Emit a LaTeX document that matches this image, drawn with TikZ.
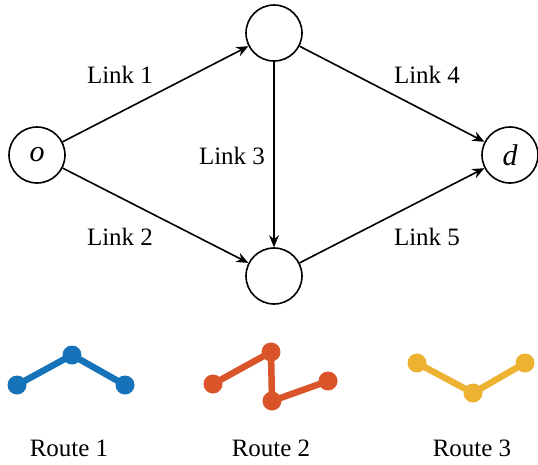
\documentclass[tikz,border=0pt]{standalone}
\usepackage{fontspec}
\setmainfont{Liberation Serif}
\usetikzlibrary{arrows.meta}
\definecolor{rblue}{HTML}{1673BA}
\definecolor{rorange}{HTML}{D95428}
\definecolor{ryellow}{HTML}{EDB232}
\begin{document}
\begin{tikzpicture}[x=1pt,y=-1pt,
  net/.style={circle,draw,line width=1.6pt,minimum size=56pt,inner sep=0pt,font=\fontsize{30}{34}\selectfont\itshape},
  link/.style={line width=1.6pt,-{Stealth[length=12pt,width=10pt]}},
  lab/.style={font=\fontsize{25}{29}\selectfont,inner sep=0pt},
  dot/.style={circle,fill=#1,minimum size=19pt,inner sep=0pt},
  seg/.style={line width=6.5pt,draw=#1}]
\useasboundingbox (0,0) rectangle (538,464);
\node[net] (o) at (37,155) {o};
\node[net] (t) at (274,33) {};
\node[net] (b) at (274,276) {};
\node[net] (d) at (510,155) {d};
\draw[link] (o) -- (t);
\draw[link] (o) -- (b);
\draw[link] (t) -- (b);
\draw[link] (t) -- (d);
\draw[link] (b) -- (d);
\node[lab] (l1) at (120,75) {Link 1};
\node[lab] (l2) at (120,237) {Link 2};
\node[lab] (l3) at (232,156) {Link 3};
\node[lab] (l4) at (427,75) {Link 4};
\node[lab] (l5) at (427,237) {Link 5};
% Route 1
\node[dot=rblue] (a1) at (17,385) {};
\node[dot=rblue] (a2) at (72,355) {};
\node[dot=rblue] (a3) at (125,385) {};
\draw[seg=rblue] (a1.center) -- (a2.center) -- (a3.center);
% Route 2
\node[dot=rorange] (b1) at (213,384) {};
\node[dot=rorange] (b2) at (271,352) {};
\node[dot=rorange] (b3) at (272,401) {};
\node[dot=rorange] (b4) at (328,381) {};
\draw[seg=rorange] (b1.center) -- (b2.center) -- (b3.center) -- (b4.center);
% Route 3
\node[dot=ryellow] (c1) at (417,363) {};
\node[dot=ryellow] (c2) at (473,393) {};
\node[dot=ryellow] (c3) at (525,363) {};
\draw[seg=ryellow] (c1.center) -- (c2.center) -- (c3.center);
\node[lab] (r1) at (69,448) {Route 1};
\node[lab] (r2) at (271,448) {Route 2};
\node[lab] (r3) at (472,448) {Route 3};
\end{tikzpicture}
\end{document}
